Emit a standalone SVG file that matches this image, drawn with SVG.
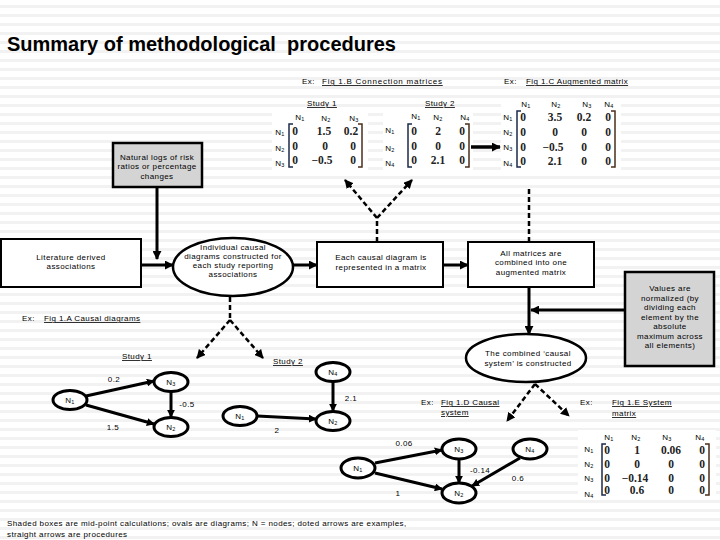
<svg xmlns="http://www.w3.org/2000/svg" width="720" height="540" viewBox="0 0 720 540">
<defs>
<pattern id="stripes" width="720" height="9" patternUnits="userSpaceOnUse"><rect width="720" height="9" fill="#fff"/><rect y="5" width="720" height="3" fill="#f2f2f2"/></pattern>
<marker id="ah" viewBox="0 0 10 10" refX="9" refY="5" markerWidth="9" markerHeight="9" markerUnits="userSpaceOnUse" orient="auto"><path d="M0,0 L10,5 L0,10 z" fill="#000"/></marker>
<marker id="ahn" viewBox="0 0 10 10" refX="9" refY="5" markerWidth="8" markerHeight="8" markerUnits="userSpaceOnUse" orient="auto"><path d="M0,0 L10,5 L0,10 z" fill="#000"/></marker>
</defs>
<style>
.t{font-family:"Liberation Sans",Arial,sans-serif;font-size:8px;letter-spacing:0.4px;fill:#000}
.c{text-anchor:middle}
.s{font-size:5.5px}
.ul{text-decoration:underline}
.fig{letter-spacing:0.75px}
.m{font-family:"Liberation Serif","Times New Roman",serif;font-size:11.5px;font-weight:bold;fill:#222;text-anchor:middle}
.box{fill:#fff;stroke:#000;stroke-width:2}
.shade{fill:#d4d4d4;stroke:#000;stroke-width:2.5}
.ov{fill:#fff;stroke:#000;stroke-width:2.5}
.node{fill:#fff;stroke:#000;stroke-width:3}
.pr{stroke:#000;stroke-width:3;fill:none}
.ex{stroke:#000;stroke-width:2.5;fill:none;stroke-dasharray:5 3}
.ed{stroke:#000;stroke-width:3;fill:none}
.bl{fill:none;stroke:#1c2a4a;stroke-width:1.5}
.brr{fill:none;stroke:#4a2e1a;stroke-width:1.5}
.wb{fill:#fff}
</style>
<rect width="720" height="540" fill="url(#stripes)"/>

<text x="7" y="51" style="font-family:'Liberation Sans',Arial,sans-serif;font-size:20px;font-weight:bold" xml:space="preserve">Summary of methodological  procedures</text>

<!-- example labels -->
<g id="labels">
<text class="t" x="302" y="84">Ex:</text>
<text class="t ul fig" x="322" y="84">Fig 1.B  Connection matrices</text>
<text class="t" x="504" y="84">Ex:</text>
<text class="t ul" x="526" y="84">Fig 1.C Augmented matrix</text>
<text class="t" x="22" y="321">Ex:</text>
<text class="t ul" x="44" y="321">Fig 1.A  Causal diagrams</text>
<text class="t" x="421" y="405">Ex:</text>
<text class="t ul" x="441" y="405">Fig 1.D Causal</text>
<text class="t ul" x="441" y="415">system</text>
<text class="t" x="580" y="405">Ex:</text>
<text class="t ul" x="612" y="405">Fig 1.E System</text>
<text class="t ul" x="612" y="416">matrix</text>
<text class="t ul" x="307" y="106">Study 1</text>
<text class="t ul" x="425" y="106">Study 2</text>
<text class="t ul" x="122" y="359">Study 1</text>
<text class="t ul" x="273" y="364">Study 2</text>
</g>

<!-- matrices -->
<g id="matrix-b1">
<rect class="wb" x="272" y="111" width="96" height="60"/>
<text class="t c" x="300" y="120">N<tspan class="s" dy="1">1</tspan></text>
<text class="t c" x="326" y="121">N<tspan class="s" dy="1">2</tspan></text>
<text class="t c" x="354" y="121">N<tspan class="s" dy="1">3</tspan></text>
<text class="t c" x="280" y="135">N<tspan class="s" dy="1">1</tspan></text>
<text class="t c" x="280" y="151">N<tspan class="s" dy="1">2</tspan></text>
<text class="t c" x="280" y="166">N<tspan class="s" dy="1">3</tspan></text>
<path class="bl" d="M293,124 H289 V167 H293"/>
<path class="brr" d="M358,124 H362 V167 H358"/>
<text class="m" x="295" y="135">0</text><text class="m" x="324" y="135">1.5</text><text class="m" x="351" y="135">0.2</text>
<text class="m" x="295" y="150">0</text><text class="m" x="325" y="150">0</text><text class="m" x="353" y="150">0</text>
<text class="m" x="295" y="164">0</text><text class="m" x="322" y="164">−0.5</text><text class="m" x="353" y="164">0</text>
</g>
<g id="matrix-b2">
<rect class="wb" x="383" y="109" width="90" height="62"/>
<text class="t c" x="416" y="119">N<tspan class="s" dy="1">1</tspan></text>
<text class="t c" x="438" y="120">N<tspan class="s" dy="1">2</tspan></text>
<text class="t c" x="465" y="120">N<tspan class="s" dy="1">4</tspan></text>
<text class="t c" x="390" y="133">N<tspan class="s" dy="1">1</tspan></text>
<text class="t c" x="390" y="151">N<tspan class="s" dy="1">2</tspan></text>
<text class="t c" x="390" y="166">N<tspan class="s" dy="1">4</tspan></text>
<path class="bl" d="M412,124 H408 V167 H412"/>
<path class="brr" d="M465,124 H469 V167 H465"/>
<text class="m" x="414" y="135">0</text><text class="m" x="438" y="135">2</text><text class="m" x="462" y="135">0</text>
<text class="m" x="414" y="150">0</text><text class="m" x="438" y="150">0</text><text class="m" x="462" y="150">0</text>
<text class="m" x="414" y="164">0</text><text class="m" x="438" y="164">2.1</text><text class="m" x="462" y="164">0</text>
</g>
<g id="matrix-c">
<rect class="wb" x="501" y="98" width="120" height="74"/>
<text class="t c" x="526" y="107">N<tspan class="s" dy="1">1</tspan></text>
<text class="t c" x="556" y="107">N<tspan class="s" dy="1">2</tspan></text>
<text class="t c" x="587" y="107">N<tspan class="s" dy="1">3</tspan></text>
<text class="t c" x="609" y="107">N<tspan class="s" dy="1">4</tspan></text>
<text class="t c" x="508" y="120">N<tspan class="s" dy="1">1</tspan></text>
<text class="t c" x="508" y="135">N<tspan class="s" dy="1">2</tspan></text>
<text class="t c" x="508" y="150">N<tspan class="s" dy="1">3</tspan></text>
<text class="t c" x="508" y="166">N<tspan class="s" dy="1">4</tspan></text>
<path class="bl" d="M521,111 H517 V167 H521"/>
<path class="brr" d="M611,111 H615 V167 H611"/>
<text class="m" x="523" y="121">0</text><text class="m" x="555" y="121">3.5</text><text class="m" x="584" y="121">0.2</text><text class="m" x="608" y="121">0</text>
<text class="m" x="523" y="136">0</text><text class="m" x="555" y="136">0</text><text class="m" x="584" y="136">0</text><text class="m" x="608" y="136">0</text>
<text class="m" x="523" y="151">0</text><text class="m" x="553" y="151">−0.5</text><text class="m" x="584" y="151">0</text><text class="m" x="608" y="151">0</text>
<text class="m" x="523" y="165">0</text><text class="m" x="555" y="165">2.1</text><text class="m" x="584" y="165">0</text><text class="m" x="608" y="165">0</text>
</g>
<g id="matrix-e">
<rect class="wb" x="578" y="430" width="138" height="70"/>
<text class="t c" x="609" y="440">N<tspan class="s" dy="1">1</tspan></text>
<text class="t c" x="636" y="440">N<tspan class="s" dy="1">2</tspan></text>
<text class="t c" x="667" y="440">N<tspan class="s" dy="1">3</tspan></text>
<text class="t c" x="700" y="440">N<tspan class="s" dy="1">4</tspan></text>
<text class="t c" x="589" y="452">N<tspan class="s" dy="1">1</tspan></text>
<text class="t c" x="589" y="467">N<tspan class="s" dy="1">2</tspan></text>
<text class="t c" x="589" y="481">N<tspan class="s" dy="1">3</tspan></text>
<text class="t c" x="589" y="497">N<tspan class="s" dy="1">4</tspan></text>
<path class="bl" d="M606,444 H602 V495 H606"/>
<path class="brr" d="M705,444 H709 V495 H705"/>
<text class="m" x="607" y="454">0</text><text class="m" x="637" y="454">1</text><text class="m" x="671" y="454">0.06</text><text class="m" x="702" y="454">0</text>
<text class="m" x="607" y="468">0</text><text class="m" x="637" y="468">0</text><text class="m" x="671" y="468">0</text><text class="m" x="702" y="468">0</text>
<text class="m" x="607" y="482">0</text><text class="m" x="635" y="482">−0.14</text><text class="m" x="671" y="482">0</text><text class="m" x="702" y="482">0</text>
<text class="m" x="607" y="494">0</text><text class="m" x="637" y="494">0.6</text><text class="m" x="671" y="494">0</text><text class="m" x="702" y="494">0</text>
</g>

<!-- procedure nodes -->
<g id="natural-logs">
<rect class="shade" x="113" y="143" width="89" height="44"/>
<text class="t c" x="157" y="160">Natural logs of risk</text>
<text class="t c" x="157" y="169">ratios or percentage</text>
<text class="t c" x="157" y="179">changes</text>
</g>
<g id="literature">
<rect class="box" x="1" y="239" width="140" height="48"/>
<text class="t c" x="71" y="260">Literature derived</text>
<text class="t c" x="71" y="269">associations</text>
</g>
<g id="individual-diagrams">
<ellipse class="ov" cx="233" cy="267" rx="60" ry="29"/>
<text class="t c" x="233" y="250">Individual causal</text>
<text class="t c" x="233" y="259">diagrams constructed for</text>
<text class="t c" x="233" y="268">each study reporting</text>
<text class="t c" x="233" y="277">associations</text>
</g>
<g id="matrix-step">
<rect class="box" x="317" y="242" width="126" height="45"/>
<text class="t c" x="381" y="260">Each causal diagram is</text>
<text class="t c" x="381" y="270">represented in a matrix</text>
</g>
<g id="combine-step">
<rect class="box" x="468" y="242" width="126" height="45"/>
<text class="t c" x="531" y="256">All matrices are</text>
<text class="t c" x="531" y="265">combined into one</text>
<text class="t c" x="531" y="275">augmented matrix</text>
</g>
<g id="normalize">
<rect class="shade" x="625" y="272" width="89" height="94"/>
<text class="t c" x="670" y="291">Values are</text>
<text class="t c" x="670" y="300.5">normalized (by</text>
<text class="t c" x="670" y="310">dividing each</text>
<text class="t c" x="670" y="319.5">element by the</text>
<text class="t c" x="670" y="329">absolute</text>
<text class="t c" x="670" y="338.5">maximum across</text>
<text class="t c" x="670" y="348">all elements)</text>
</g>
<g id="causal-system">
<ellipse class="ov" cx="526" cy="358" rx="60" ry="24"/>
<text class="t c" x="528" y="356">The combined ‘causal</text>
<text class="t c" x="528" y="366">system’ is constructed</text>
</g>

<!-- diagram nodes -->
<g id="s1-n1"><ellipse class="node" cx="70" cy="400" rx="17" ry="9.5"/><text class="t c" x="70" y="403">N<tspan class="s" dy="1">1</tspan></text></g>
<g id="s1-n3"><ellipse class="node" cx="171" cy="382" rx="17" ry="9.5"/><text class="t c" x="171" y="385">N<tspan class="s" dy="1">3</tspan></text></g>
<g id="s1-n2"><ellipse class="node" cx="171" cy="427" rx="17" ry="9.5"/><text class="t c" x="171" y="430">N<tspan class="s" dy="1">2</tspan></text></g>
<g id="s2-n1"><ellipse class="node" cx="240" cy="416" rx="17" ry="9.5"/><text class="t c" x="240" y="419">N<tspan class="s" dy="1">1</tspan></text></g>
<g id="s2-n4"><ellipse class="node" cx="333" cy="372" rx="17" ry="9.5"/><text class="t c" x="333" y="375">N<tspan class="s" dy="1">4</tspan></text></g>
<g id="s2-n2"><ellipse class="node" cx="333" cy="421" rx="17" ry="9.5"/><text class="t c" x="333" y="424">N<tspan class="s" dy="1">2</tspan></text></g>
<g id="cs-n1"><ellipse class="node" cx="358" cy="468" rx="17" ry="10"/><text class="t c" x="358" y="471">N<tspan class="s" dy="1">1</tspan></text></g>
<g id="cs-n3"><ellipse class="node" cx="459" cy="449" rx="17" ry="10"/><text class="t c" x="459" y="452">N<tspan class="s" dy="1">3</tspan></text></g>
<g id="cs-n4"><ellipse class="node" cx="530" cy="449" rx="17" ry="10"/><text class="t c" x="530" y="452">N<tspan class="s" dy="1">4</tspan></text></g>
<g id="cs-n2"><ellipse class="node" cx="459" cy="493" rx="17" ry="10"/><text class="t c" x="459" y="496">N<tspan class="s" dy="1">2</tspan></text></g>

<!-- connectors -->
<g id="connectors">
<line class="pr" x1="157" y1="187" x2="157" y2="259" marker-end="url(#ah)"/>
<line class="pr" x1="141" y1="265" x2="173" y2="265" marker-end="url(#ah)"/>
<line class="pr" x1="293" y1="265" x2="317" y2="265" marker-end="url(#ah)"/>
<line class="pr" x1="443" y1="265" x2="468" y2="265" marker-end="url(#ah)"/>
<line class="pr" x1="529" y1="287" x2="529" y2="334" marker-end="url(#ah)"/>
<line class="pr" x1="625" y1="310" x2="531" y2="310" marker-end="url(#ah)"/>
<line class="pr" style="stroke-width:3.5" x1="471" y1="147" x2="500" y2="147" marker-end="url(#ah)"/>

<path class="ex" d="M377,242 V218"/>
<line class="ex" x1="377" y1="218" x2="345" y2="180" marker-end="url(#ah)"/>
<line class="ex" x1="377" y1="218" x2="412" y2="180" marker-end="url(#ah)"/>
<path class="ex" d="M529,242 V186"/>
<path class="ex" d="M230,297 V320"/>
<line class="ex" x1="230" y1="320" x2="197" y2="358" marker-end="url(#ah)"/>
<line class="ex" x1="230" y1="320" x2="263" y2="358" marker-end="url(#ah)"/>
<line class="ex" x1="535" y1="384" x2="507" y2="421" marker-end="url(#ah)"/>
<line class="ex" x1="535" y1="384" x2="569" y2="416" marker-end="url(#ah)"/>

<line class="ed" x1="86" y1="396" x2="154" y2="381" marker-end="url(#ahn)"/>
<line class="ed" x1="86" y1="405" x2="154" y2="424" marker-end="url(#ahn)"/>
<line class="ed" x1="171" y1="392" x2="171" y2="417" marker-end="url(#ahn)"/>
<line class="ed" x1="257" y1="416" x2="316" y2="419" marker-end="url(#ahn)"/>
<line class="ed" x1="333" y1="382" x2="333" y2="411" marker-end="url(#ahn)"/>
<line class="ed" x1="375" y1="463" x2="442" y2="450" marker-end="url(#ahn)"/>
<line class="ed" x1="375" y1="473" x2="442" y2="489" marker-end="url(#ahn)"/>
<line class="ed" x1="459" y1="459" x2="459" y2="483" marker-end="url(#ahn)"/>
<line class="ed" x1="520" y1="458" x2="472" y2="486" marker-end="url(#ahn)"/>

<text class="t c" x="114" y="382">0.2</text>
<text class="t c" x="113" y="430">1.5</text>
<text class="t c" x="187" y="407">-0.5</text>
<text class="t c" x="277" y="433">2</text>
<text class="t c" x="351" y="401">2.1</text>
<text class="t c" x="404" y="446">0.06</text>
<text class="t c" x="480" y="473">-0.14</text>
<text class="t c" x="518" y="481">0.6</text>
<text class="t c" x="398" y="496">1</text>
</g>

<text class="t" x="7" y="526">Shaded boxes are mid-point calculations; ovals are diagrams; N = nodes; doted arrows are examples,</text>
<text class="t" x="7" y="537">straight arrows are procedures</text>
</svg>
